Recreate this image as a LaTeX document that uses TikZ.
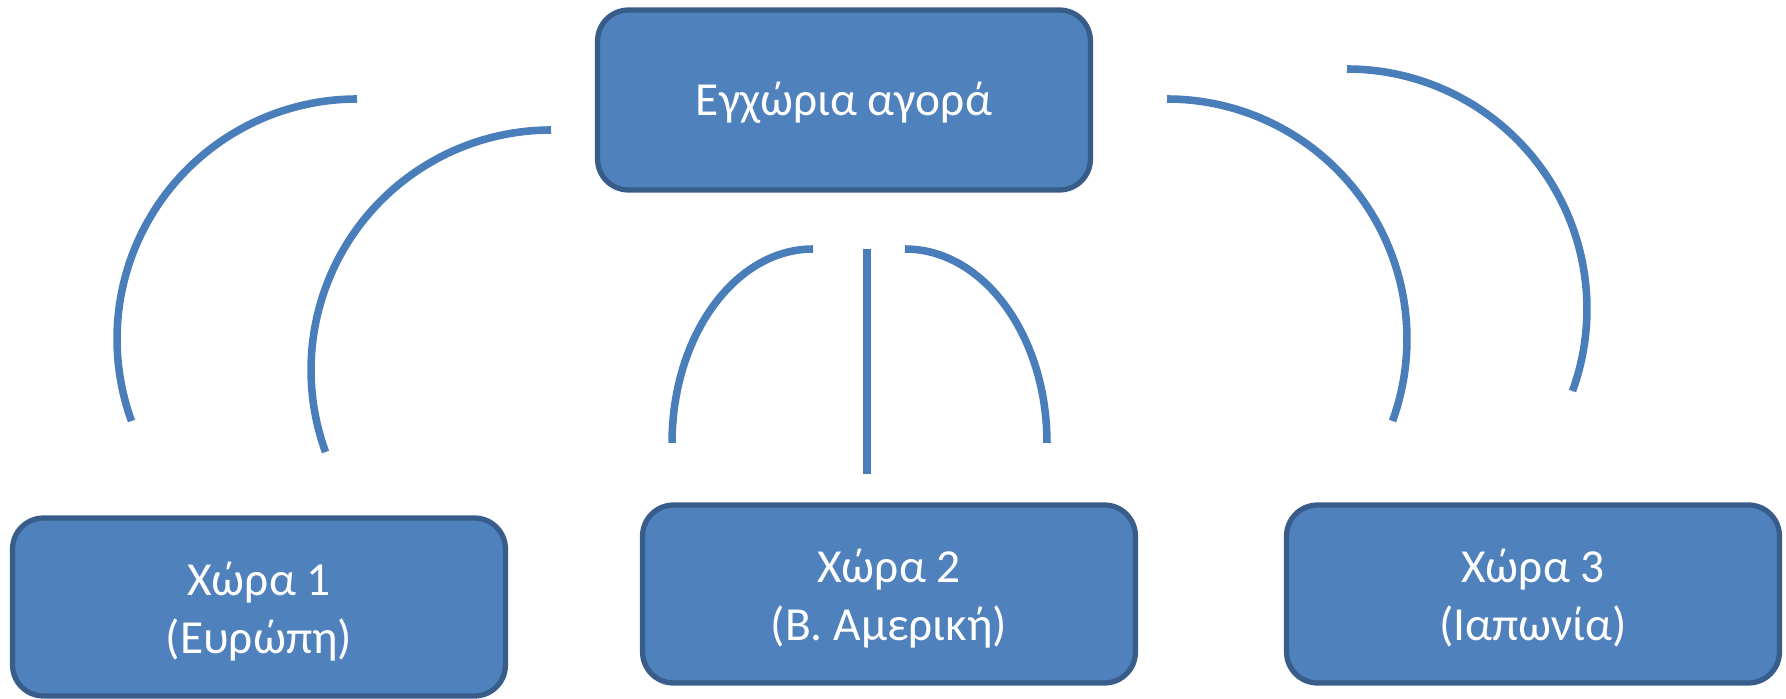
\documentclass[tikz,border=0pt]{standalone}
\usepackage{fontspec}
\setmainfont{Carlito}
\usepackage{tikz}
\usetikzlibrary{arrows,shapes}
\definecolor{boxfill}{HTML}{4F81BD}
\definecolor{boxline}{HTML}{385D8A}
\definecolor{linkcol}{HTML}{4A7EBB}
\newcommand{\hitop}[1]{\rule{0pt}{#1}}
\newcommand{\lobot}{\rule[-8pt]{0pt}{8pt}}
\tikzstyle{box}=[rectangle,rounded corners=0.62cm,fill=boxfill,draw=boxline,line width=3pt,text=white,align=center,minimum width=9.86cm,minimum height=3.56cm,inner sep=0pt,font=\fontsize{27}{33}\selectfont]
\tikzstyle{link} = [draw,linkcol,line width=4.3pt,-]

\begin{document}
\begin{tikzpicture}[x=0.02cm,y=0.02cm]
                    \useasboundingbox (0,0) rectangle (1786,-699);

                    \node[box,minimum height=3.6cm] (m) at (844,-100) {\hitop{25.6pt}Εγχώρια αγορά\lobot};
                    \node[box] (c1) at (259,-607) {\hitop{28.4pt}Χώρα 1\\(Ευρώπη)\lobot};
                    \node[box] (c2) at (889,-594) {\hitop{28.4pt}Χώρα 2\\(Β. Αμερική)\lobot};
                    \node[box] (c3) at (1533,-594) {\hitop{28.4pt}Χώρα 3\\(Ιαπωνία)\lobot};

                    \coordinate (a1) at (357,-99);
                    \coordinate (a2) at (551,-130);
                    \coordinate (a3) at (1167,-99);
                    \coordinate (a4) at (1347,-69);
                    \coordinate (b1) at (813,-249);
                    \coordinate (b2) at (905,-249);
                    \coordinate (v1) at (867,-249);
                    \coordinate (v2) at (867,-474);

                    \path[link] (a1) arc[start angle=90,end angle=200,radius=4.8cm];
                    \path[link] (a2) arc[start angle=90,end angle=200,radius=4.8cm];

                    \path[link] (b1) arc[start angle=90,end angle=180,x radius=2.82cm,y radius=3.88cm];
                    \path[link] (v1) -- (v2);
                    \path[link] (b2) arc[start angle=90,end angle=0,x radius=2.84cm,y radius=3.88cm];

                    \path[link] (a3) arc[start angle=90,end angle=-20,radius=4.8cm];
                    \path[link] (a4) arc[start angle=90,end angle=-20,radius=4.8cm];
                \end{tikzpicture}
\end{document}
